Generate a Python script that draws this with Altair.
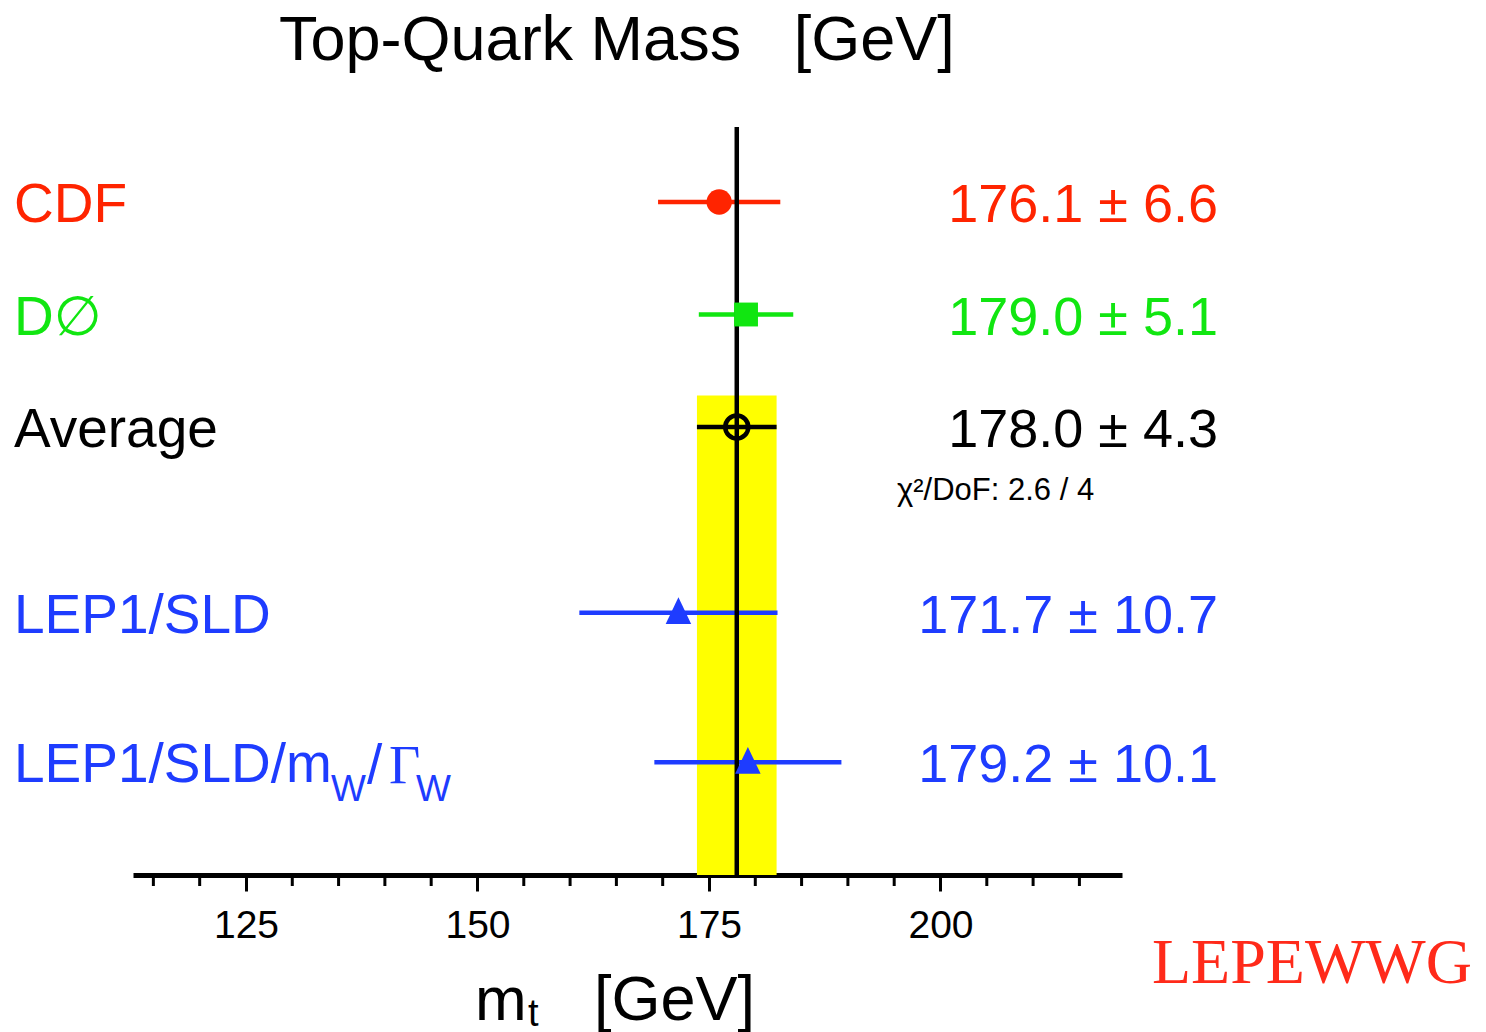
import altair as alt
import pandas as pd

# ---------------- data ----------------
labels = ["CDF", "D\u2205", "Average", "LEP1/SLD", "LEP1/SLD/m"]
values = [176.1, 179.0, 178.0, 171.7, 179.2]
errors = [6.6, 5.1, 4.3, 10.7, 10.1]
rows = [1.0, 2.0, 3.0, 4.65, 5.98]          # row order (top to bottom)
band_top_row = 2.72                          # where the average band starts
chi2_text = "\u03c7\u00b2/DoF: 2.6 / 4"
x_domain = [112.8, 219.6]
major_ticks = [125, 150, 175, 200]
minor_ticks = [115, 120, 130, 135, 140, 145, 155, 160, 165, 170,
               180, 185, 190, 195, 205, 210, 215]

# ---------------- style ----------------
colors = ["#ff2400", "#11e611", "#000000", "#1e3cff", "#1e3cff"]
SANS = "Liberation Sans, DejaVu Sans, sans-serif"
SERIF = "Liberation Serif, DejaVu Serif, serif"
W, H = 989, 748
TRI = "M-1,0.9L1,0.9L0,-1.2Z"

df = pd.DataFrame({
    "label": labels,
    "value": values,
    "err": errors,
    "row": rows,
})
df["lo"] = df["value"] - df["err"]
df["hi"] = df["value"] + df["err"]
df["vtext"] = [f"{v:.1f} \u00b1 {e:.1f}" for v, e in zip(values, errors)]

avg = df[df["label"] == "Average"].iloc[0]
band = pd.DataFrame({"lo": [avg["lo"]], "hi": [avg["hi"]], "row": [band_top_row],
                     "value": [avg["value"]]})

xscale = alt.Scale(domain=x_domain, nice=False, zero=False)
xaxis = alt.Axis(values=major_ticks, tickSize=16, tickWidth=3, tickColor="black",
                 domainWidth=5, domainColor="black", labelFontSize=39,
                 labelFont=SANS, labelColor="black", labelPadding=15,
                 title=None, grid=False, format="d", labelFlush=False)
yscale = alt.Scale(domain=[1 / 3, 6.982], reverse=True, nice=False, zero=False)
cscale = alt.Scale(domain=labels, range=colors)


def X(f):
    return alt.X(f, type="quantitative", scale=xscale, axis=xaxis)


def Y(f):
    return alt.Y(f, type="quantitative", scale=yscale, axis=None)


col = alt.Color("label:N", scale=cscale, legend=None)

band_layer = alt.Chart(band).mark_rect(color="#ffff00").encode(
    x=X("lo"), x2="hi", y=Y("row"), y2=alt.value(H))

err_layer = alt.Chart(df).mark_rule(strokeWidth=4.5).encode(
    x=X("lo"), x2="hi", y=Y("row"), color=col)

vline = alt.Chart(band).mark_rule(strokeWidth=4.5, color="black").encode(
    x=X("value"), y=alt.value(0), y2=alt.value(H))

minor = alt.Chart(pd.DataFrame({"t": minor_ticks})).mark_rule(
    strokeWidth=3, color="black").encode(
    x=X("t"), y=alt.value(H), y2=alt.value(H + 11))

circ = alt.Chart(df[df["label"] == "CDF"]).mark_point(
    filled=True, shape="circle", size=640, opacity=1).encode(
    x=X("value"), y=Y("row"), color=col)
sq = alt.Chart(df[df["label"] == "D\u2205"]).mark_point(
    filled=True, shape="square", size=570, opacity=1).encode(
    x=X("value"), y=Y("row"), color=col)
tri = alt.Chart(df[df["label"].str.startswith("LEP1")]).mark_point(
    filled=True, shape=TRI, size=650, opacity=1).encode(
    x=X("value"), y=Y("row"), color=col)
opn = alt.Chart(df[df["label"] == "Average"]).mark_point(
    filled=False, shape="circle", size=530, strokeWidth=4.5, opacity=1).encode(
    x=X("value"), y=Y("row"), color=col)

left_txt = alt.Chart(df).mark_text(
    align="left", baseline="alphabetic", dy=20, fontSize=55, font=SANS).encode(
    x=alt.value(-119), y=Y("row"), text="label:N", color=col)

val_txt = alt.Chart(df).mark_text(
    align="right", baseline="alphabetic", dy=20, fontSize=54, font=SANS).encode(
    x=alt.value(1085), y=Y("row"), text="vtext:N", color=col)


def annot(text, x, y, size, font=SANS, color="black", align="left"):
    return alt.Chart(pd.DataFrame({"t": [text]})).mark_text(
        align=align, baseline="alphabetic", fontSize=size, font=font,
        color=color).encode(x=alt.value(x), y=alt.value(y), text="t:N")


blue = colors[3]
annots = [
    annot("Top-Quark Mass\u00a0\u00a0\u00a0[GeV]", 146, -67, 63),
    annot("m", 342, 893, 62),
    annot("t", 395, 899, 38),
    annot("[GeV]", 461, 893, 63),
    annot("LEPEWWG", 1019, 856, 64, font=SERIF, color="#ff2a1a"),
    annot(chi2_text, 764, 373, 31),
    annot("W", 198, 674, 37, color=blue),
    annot("/", 234, 656, 55, color=blue),
    annot("\u0393", 256, 656, 54, font=SERIF, color=blue),
    annot("W", 283, 674, 37, color=blue),
]

chart = alt.layer(
    band_layer, err_layer, vline, minor, circ, sq, tri, opn, left_txt, val_txt,
    *annots
).properties(
    width=W, height=H,
    autosize=alt.AutoSizeParams(type="none"),
    padding={"left": 133, "top": 127, "right": 364, "bottom": 157},
    background="white",
).configure_view(stroke=None)

chart.save("out.html", embed_options={"renderer": "svg", "actions": False})
